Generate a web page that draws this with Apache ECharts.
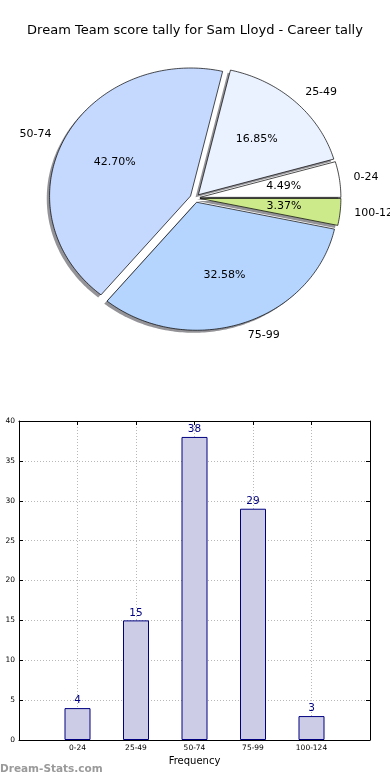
<!DOCTYPE html>
<html><head><meta charset="utf-8">
<script src="https://cdn.jsdelivr.net/npm/echarts@6/dist/echarts.min.js"></script>
<style>html,body{margin:0;padding:0;background:#fff}#c{width:390px;height:780px}</style>
</head><body><div id="c"></div>
<script>
const titleText = 'Dream Team score tally for Sam Lloyd - Career tally';
const categories = ['0-24', '25-49', '50-74', '75-99', '100-124'];
const counts = [4, 15, 38, 29, 3];
const pieColors = ['#ffffff', '#eaf1ff', '#c5d9ff', '#b5d5ff', '#cdea8b'];
const yTicks = [0, 5, 10, 15, 20, 25, 30, 35, 40];
const xLabel = 'Frequency';
const watermark = 'Dream-Stats.com';

const FONT = 'DejaVu Sans';
const total = counts.reduce((a, b) => a + b, 0);
const starts = [];
let acc = 0;
counts.forEach(v => { starts.push(acc); acc += v; });
const EXPLODE = 0.035;

function geom(i) {
  const a0 = starts[i] / total * 2 * Math.PI;
  const a1 = (starts[i] + counts[i]) / total * 2 * Math.PI;
  const mid = (a0 + a1) / 2;
  return { a0, a1, mid, ex: EXPLODE * Math.cos(mid), ey: EXPLODE * Math.sin(mid) };
}
function slicePts(api, i, dx, dy) {
  const g = geom(i);
  const ex = g.ex + dx, ey = g.ey + dy;
  const pts = [api.coord([ex, ey])];
  const n = Math.max(4, Math.ceil((g.a1 - g.a0) / (Math.PI / 180)));
  for (let k = 0; k <= n; k++) {
    const t = g.a0 + (g.a1 - g.a0) * k / n;
    pts.push(api.coord([ex + Math.cos(t), ey + Math.sin(t)]));
  }
  return pts;
}

const chart = echarts.init(document.getElementById('c'), null, { renderer: 'canvas' });
const yMin = yTicks[0], yMax = yTicks[yTicks.length - 1], yStep = yTicks[1] - yTicks[0];
const gridLine = { show: true, showMinLine: false, showMaxLine: false, lineStyle: { color: '#b8b8b8', type: [1, 2], width: 1 } };
const tick = { show: true, inside: true, length: 4, lineStyle: { color: '#000', width: 1 } };
const line = { show: true, onZero: false, lineStyle: { color: '#000', width: 1 } };

chart.setOption({
  animation: false,
  backgroundColor: '#fff',
  title: {
    text: titleText, left: 'center', top: 19,
    textStyle: { fontFamily: FONT, fontSize: 13, fontWeight: 'normal', color: '#000' }
  },
  graphic: [{
    type: 'text', left: 0, top: 764,
    style: { text: watermark, fill: '#9a9a9a', font: 'bold 10.5px "DejaVu Sans"' }
  }],
  grid: [
    { left: 54, top: 70, width: 282, height: 256, show: false },
    { left: 19, top: 421, width: 351, height: 319, show: false }
  ],
  xAxis: [
    { gridIndex: 0, type: 'value', min: -1, max: 1, show: false },
    {
      gridIndex: 1, type: 'value', min: -1, max: categories.length, interval: 1, position: 'bottom',
      axisLine: line, axisTick: tick, splitLine: gridLine,
      axisLabel: { formatter: v => categories[v] || '', fontFamily: FONT, fontSize: 7.5, color: '#000', margin: 4 },
      name: xLabel, nameLocation: 'middle', nameGap: 16,
      nameTextStyle: { fontFamily: FONT, fontSize: 10, color: '#000' }
    },
    {
      gridIndex: 1, type: 'value', min: -1, max: categories.length, interval: 1, position: 'top',
      axisLine: line, axisTick: tick, splitLine: { show: false }, axisLabel: { show: false }
    }
  ],
  yAxis: [
    { gridIndex: 0, type: 'value', min: -1, max: 1, show: false },
    {
      gridIndex: 1, type: 'value', min: yMin, max: yMax, interval: yStep, position: 'left',
      axisLine: line, axisTick: tick, splitLine: gridLine,
      axisLabel: { fontFamily: FONT, fontSize: 7.5, color: '#000', margin: 4 }
    },
    {
      gridIndex: 1, type: 'value', min: yMin, max: yMax, interval: yStep, position: 'right',
      axisLine: line, axisTick: tick, splitLine: { show: false }, axisLabel: { show: false }
    }
  ],
  series: [
    {
      type: 'custom', xAxisIndex: 0, yAxisIndex: 0, clip: false, z: 1,
      data: counts.map((v, i) => [i, v]),
      renderItem: (params, api) => {
        const i = params.dataIndex;
        return {
          type: 'polygon',
          shape: { points: slicePts(api, i, -0.02, -0.02) },
          style: { fill: 'rgba(40,40,50,0.5)', stroke: null }
        };
      }
    },
    {
      type: 'custom', xAxisIndex: 0, yAxisIndex: 0, clip: false, z: 2,
      data: counts.map((v, i) => [i, v]),
      renderItem: (params, api) => {
        const i = params.dataIndex;
        const g = geom(i);
        const c = Math.cos(g.mid), s = Math.sin(g.mid);
        const lp = api.coord([g.ex + 1.1 * c, g.ey + 1.1 * s]);
        const pp = api.coord([g.ex + 0.6 * c, g.ey + 0.6 * s]);
        const pct = (counts[i] / total * 100).toFixed(2) + '%';
        return {
          type: 'group',
          children: [
            {
              type: 'polygon', shape: { points: slicePts(api, i, 0, 0) },
              style: { fill: pieColors[i], stroke: '#000', lineWidth: 0.7 }
            },
            {
              type: 'text', z2: 10,
              style: { text: pct, x: pp[0], y: pp[1], align: 'center', verticalAlign: 'middle',
                       fill: '#000', font: '11px "DejaVu Sans"' }
            },
            {
              type: 'text', z2: 10,
              style: { text: categories[i], x: lp[0], y: lp[1], align: c > 0 ? 'left' : 'right',
                       verticalAlign: 'middle', fill: '#000', font: '11px "DejaVu Sans"' }
            }
          ]
        };
      }
    },
    {
      type: 'bar', xAxisIndex: 1, yAxisIndex: 1, barWidth: 26,
      data: counts.map((v, i) => [i, v]),
      itemStyle: { color: '#ccccE6', borderColor: '#000080', borderWidth: 1 },
      label: { show: true, position: 'top', distance: 2, color: '#000080',
               fontFamily: FONT, fontSize: 10.5, formatter: p => p.value[1] }
    }
  ]
});
</script>
</body></html>
